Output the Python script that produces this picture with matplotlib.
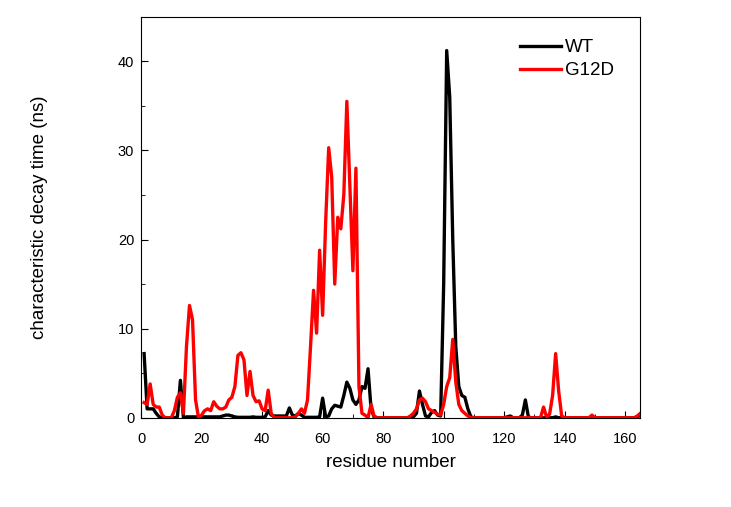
import numpy as np
import matplotlib.pyplot as plt
from matplotlib.ticker import MultipleLocator

plt.rcParams['font.family'] = ['Liberation Sans', 'DejaVu Sans']

# residue numbers 1..166
residue = np.arange(1, 167)

wt = [7.2, 1.0, 1.0, 1.0, 0.5, 0.1, 0.0, 0.0, 0.0, 0.0,
      0.0, 0.1, 4.2, 0.0, 0.1, 0.1, 0.1, 0.1, 0.1, 0.1,
      0.1, 0.1, 0.1, 0.1, 0.1, 0.1, 0.2, 0.3, 0.3, 0.2,
      0.1, 0.05, 0.05, 0.05, 0.05, 0.05, 0.1, 0.05, 0.05, 0.05,
      0.1, 0.8, 0.3, 0.2, 0.2, 0.2, 0.2, 0.2, 1.1, 0.3,
      0.2, 0.5, 0.3, 0.05, 0.05, 0.05, 0.05, 0.05, 0.1, 2.2,
      0.1, 0.2, 1.0, 1.4, 1.3, 1.2, 2.5, 4.0, 3.3, 2.0,
      1.5, 2.0, 3.5, 3.3, 5.5, 1.0, 0.1, 0.0, 0.0, 0.0,
      0.0, 0.0, 0.0, 0.0, 0.0, 0.0, 0.0, 0.0, 0.0, 0.1,
      0.5, 3.0, 1.5, 0.2, 0.1, 0.6, 0.8, 0.3, 0.2, 15.0,
      41.2, 36.0, 20.0, 8.0, 3.5, 2.5, 2.3, 1.0, 0.1, 0.0,
      0.0, 0.0, 0.0, 0.0, 0.0, 0.0, 0.0, 0.0, 0.0, 0.0,
      0.1, 0.2, 0.0, 0.0, 0.0, 0.3, 2.0, 0.1, 0.0, 0.0,
      0.0, 0.0, 0.0, 0.0, 0.0, 0.0, 0.1, 0.0, 0.0, 0.0,
      0.0, 0.0, 0.0, 0.0, 0.0, 0.0, 0.0, 0.0, 0.0, 0.0,
      0.0, 0.0, 0.0, 0.0, 0.0, 0.0, 0.0, 0.0, 0.0, 0.0,
      0.0, 0.0, 0.0, 0.1, 0.3, 0.5]

g12d = [1.7, 1.5, 3.8, 1.5, 1.2, 1.2, 0.3, 0.0, 0.0, 0.0,
        0.8, 2.3, 2.8, 0.5, 8.0, 12.6, 11.0, 2.0, 0.0, 0.3,
        0.8, 1.0, 0.8, 1.8, 1.3, 1.0, 1.0, 1.2, 2.0, 2.3,
        3.5, 7.0, 7.3, 6.5, 2.5, 5.2, 2.5, 1.8, 1.9, 1.0,
        0.8, 3.1, 0.5, 0.0, 0.0, 0.0, 0.0, 0.0, 0.0, 0.0,
        0.1, 0.5, 1.0, 0.5, 2.0, 8.0, 14.3, 9.5, 18.8, 11.5,
        22.0, 30.3, 27.0, 15.0, 22.5, 21.2, 25.0, 35.5, 26.0, 16.5,
        28.0, 3.5, 0.5, 0.3, 0.0, 1.5, 0.2, 0.0, 0.0, 0.0,
        0.0, 0.0, 0.0, 0.0, 0.0, 0.0, 0.0, 0.0, 0.2, 0.5,
        1.0, 2.0, 2.2, 1.8, 1.0, 0.8, 0.6, 0.4, 0.3, 1.5,
        3.5, 4.5, 8.8, 4.0, 1.5, 0.8, 0.5, 0.2, 0.0, 0.0,
        0.0, 0.0, 0.0, 0.0, 0.0, 0.0, 0.0, 0.0, 0.0, 0.0,
        0.0, 0.0, 0.0, 0.0, 0.0, 0.0, 0.0, 0.0, 0.0, 0.0,
        0.0, 0.0, 1.2, 0.1, 0.4, 2.5, 7.2, 3.0, 0.2, 0.0,
        0.0, 0.0, 0.0, 0.0, 0.0, 0.0, 0.0, 0.0, 0.3, 0.0,
        0.0, 0.0, 0.0, 0.0, 0.0, 0.0, 0.0, 0.0, 0.0, 0.0,
        0.0, 0.0, 0.0, 0.2, 0.5, 0.8]

fig = plt.figure(figsize=(7.31, 5.07), dpi=100)
ax = fig.add_axes([0.193, 0.176, 0.683, 0.791])

ax.plot(residue, wt, color='black', lw=2.4, label='WT')
ax.plot(residue, g12d, color='red', lw=2.4, label='G12D')

ax.set_xlim(0, 165)
ax.set_ylim(0, 45)
ax.xaxis.set_major_locator(MultipleLocator(20))
ax.xaxis.set_minor_locator(MultipleLocator(10))
ax.yaxis.set_major_locator(MultipleLocator(10))
ax.yaxis.set_minor_locator(MultipleLocator(5))
ax.tick_params(which='both', direction='in', labelsize=10.5)
ax.tick_params(which='major', length=5)
ax.tick_params(which='minor', length=3)
ax.tick_params(axis='x', pad=10)
ax.tick_params(axis='y', pad=5)

ax.set_xlabel('residue number', fontsize=13.5, labelpad=6)
ax.set_ylabel('characteristic decay time (ns)', fontsize=13.5, labelpad=50)

ax.legend(loc='upper right', bbox_to_anchor=(0.988, 0.995), frameon=False,
          fontsize=13.5, handlelength=2.2, handletextpad=0.2,
          labelspacing=0.3, borderaxespad=0.7)

plt.savefig('out.png', dpi=100)
